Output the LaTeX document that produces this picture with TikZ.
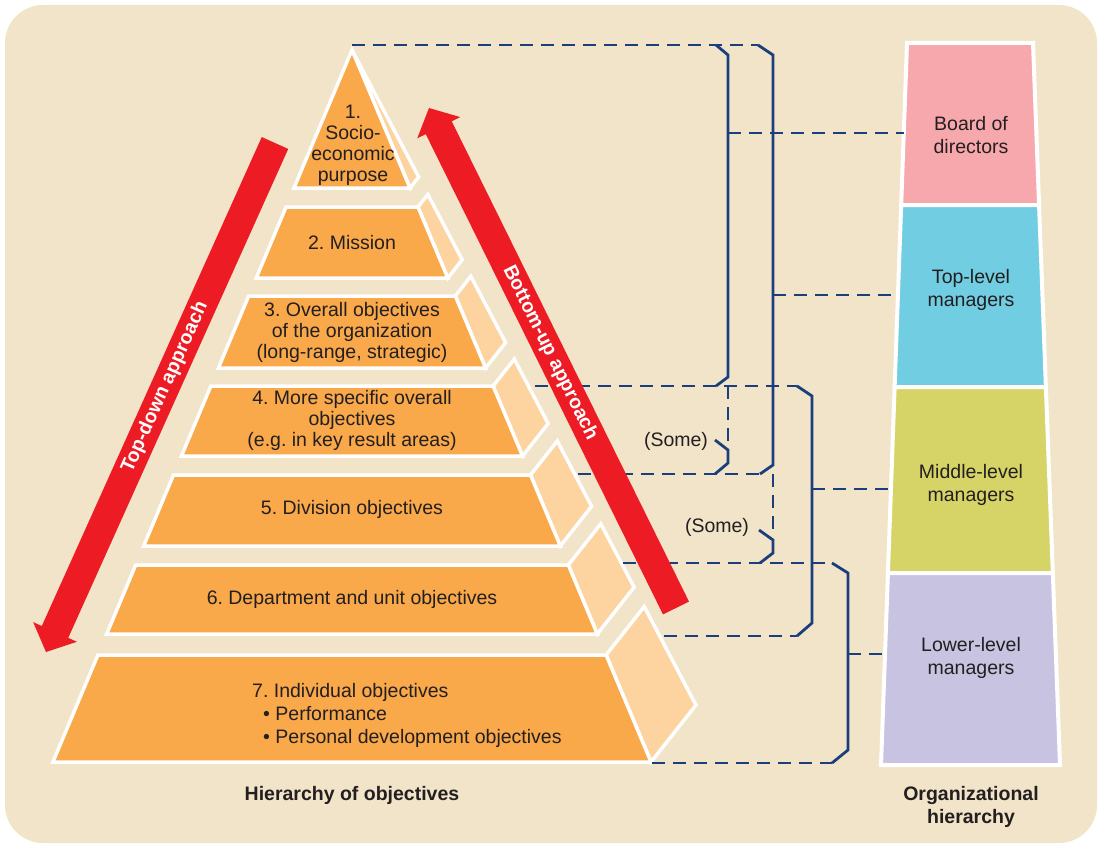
\documentclass[tikz,border=0pt]{standalone}
\usepackage{fontspec}
\setmainfont{Liberation Sans}
\usetikzlibrary{calc}
\definecolor{cream}{HTML}{F2E4C8}
\definecolor{tierfront}{HTML}{F9A84A}
\definecolor{tierback}{HTML}{FDD3A0}
\definecolor{arrowred}{HTML}{ED1C24}
\definecolor{navy}{HTML}{1B3F7C}
\definecolor{ink}{HTML}{231F20}
\definecolor{boardpink}{HTML}{F7A8AC}
\definecolor{topcyan}{HTML}{70CDE2}
\definecolor{midolive}{HTML}{D6D466}
\definecolor{lowlilac}{HTML}{C7C3E0}
\tikzstyle{tier}=[fill=tierfront,draw=white,line width=3.5pt]
\tikzstyle{tierside}=[fill=tierback,draw=white,line width=3.5pt]
\tikzstyle{orgbox}=[draw=white,line width=4pt]
\tikzstyle{tiertext}=[text=ink,font=\fontsize{19.5}{21}\selectfont,align=center,inner sep=0pt]
\tikzstyle{orgtext}=[tiertext,font=\fontsize{19.5}{23}\selectfont]
\tikzstyle{heading}=[orgtext,font=\bfseries\fontsize{19.5}{23}\selectfont]
\tikzstyle{dashlink}=[navy,line width=2.8pt,dash pattern=on 13pt off 8pt]
\tikzstyle{bracket}=[navy,line width=2.8pt]
\tikzstyle{approach}=[fill=arrowred]
\tikzstyle{approachtext}=[text=white,font=\bfseries\fontsize{19.5}{21}\selectfont,sloped,inner sep=0pt]
\frenchspacing

\begin{document}
\begin{tikzpicture}[x=1pt,y=-1pt]
  \useasboundingbox (0,0) rectangle (1099,845);
  \fill[cream,rounded corners=38pt] (5,5) rectangle (1097,843); % backdrop

  % pyramid, top triangle first
  \draw[tierside] (352,50) -- (418.7,177) -- (410,188) -- cycle;
  \draw[tier] (352,50) -- (410,188) -- (294,188) -- cycle;
  \foreach \yt/\yb in {207/278,296/368,386/456,475/546,565/634,655/762}{
    \pgfmathsetmacro\xtr{352+0.42*(\yt-50)}
    \pgfmathsetmacro\xtl{352-0.42*(\yt-50)}
    \pgfmathsetmacro\xbr{352+0.42*(\yb-50)}
    \pgfmathsetmacro\xbl{352-0.42*(\yb-50)}
    \pgfmathsetmacro\bxt{352+0.483*(\yt-50)}
    \pgfmathsetmacro\byt{50+0.92*(\yt-50)}
    \pgfmathsetmacro\bxb{352+0.483*(\yb-50)}
    \pgfmathsetmacro\byb{50+0.92*(\yb-50)}
    \draw[tierside] (\xtr,\yt) -- (\bxt,\byt) -- (\bxb,\byb) -- (\xbr,\yb) -- cycle;
    \draw[tier] (\xtl,\yt) -- (\xtr,\yt) -- (\xbr,\yb) -- (\xbl,\yb) -- cycle;
  }

  \node[tiertext] (obj1) at (353,145) {1.\\Socio-\\economic\\purpose};
  \node[tiertext] (obj2) at (352,243) {2. Mission};
  \node[tiertext] (obj3) at (352,332) {3. Overall objectives\\of the organization\\(long-range, strategic)};
  \node[tiertext] (obj4) at (352,420) {4. More specific overall\\objectives\\(e.g. in key result areas)};
  \node[tiertext] (obj5) at (352,509) {5. Division objectives};
  \node[tiertext] (obj6) at (352,599) {6. Department and unit objectives};
  \node[tiertext,font=\fontsize{19.5}{23}\selectfont,align=left,anchor=west] (obj7) at (252,715)
    {7. Individual objectives\\\hspace*{11pt}• Performance\\\hspace*{11pt}• Personal development objectives};
  \node[heading] (hierobj) at (352,795) {Hierarchy of objectives};

  % organizational hierarchy
  \foreach \ya/\yb/\col in {43/205/boardpink,205/387/topcyan,387/573/midolive,573/765/lowlilac}{
    \pgfmathsetmacro\xla{907-0.036*(\ya-43)}
    \pgfmathsetmacro\xra{1033+0.0374*(\ya-43)}
    \pgfmathsetmacro\xlb{907-0.036*(\yb-43)}
    \pgfmathsetmacro\xrb{1033+0.0374*(\yb-43)}
    \draw[orgbox,fill=\col] (\xla,\ya) -- (\xra,\ya) -- (\xrb,\yb) -- (\xlb,\yb) -- cycle;
  }
  \node[orgtext] (board) at (971,135) {Board of\\directors};
  \node[orgtext] (toplev) at (971,290) {Top-level\\managers};
  \node[orgtext] (midlev) at (971,485) {Middle-level\\managers};
  \node[orgtext] (lowlev) at (971,658) {Lower-level\\managers};
  \node[heading] (orghier) at (971,807) {Organizational\\hierarchy};

  % levels of the pyramid and box edges
  \coordinate (apex) at (352,45);
  \coordinate (lev4) at (535,386);
  \coordinate (lev5) at (578,474);
  \coordinate (lev6) at (623,563);
  \coordinate (lev6b) at (664,636);
  \coordinate (lev7b) at (652,763);
  \coordinate (boardin) at (903.8,133);
  \coordinate (topin) at (897.9,295);
  \coordinate (midin) at (890.9,489);
  \coordinate (lowin) at (885,654);

  \draw[dashlink] (apex) -- (758,45);
  \draw[dashlink] (lev4) -- (797,386);
  \draw[dashlink] (lev5) -- (760,474);
  \draw[dashlink] (lev6) -- (832,563);
  \draw[dashlink] (lev6b) -- (797,636);
  \draw[dashlink] (lev7b) -- (832,763);

  \draw[bracket] (716,45) -- (728,55) -- (728,377) -- (716,386); % board
  \draw[dashlink] (728,133) -- (boardin);
  \draw[dashlink] (728,386) -- (728,447);
  \draw[bracket] (715,440) -- (728,450) -- (728,463) -- (715,474);
  \draw[bracket] (758,45) -- (773,55) -- (773,465) -- (760,474); % top-level
  \draw[dashlink] (773,295) -- (topin);
  \draw[dashlink] (773,474) -- (773,532);
  \draw[bracket] (759,530) -- (773,540) -- (773,553) -- (760,563);
  \draw[bracket] (797,386) -- (812,396) -- (812,623) -- (797,636); % middle
  \draw[dashlink] (812,489) -- (midin);
  \draw[bracket] (832,563) -- (848,573) -- (848,750) -- (832,763); % lower
  \draw[dashlink] (848,654) -- (lowin);

  \node[orgtext] (some1) at (676,441) {(Some)};
  \node[orgtext] (some2) at (717,527) {(Some)};

  % the two approaches
  \foreach \nm/\tx/\ty/\px/\py/\at/\txt in {td/275/143/46/652/0.52/Top-down approach,bu/676/608/429/108/0.49/Bottom-up approach}{
    \coordinate (\nm tail) at (\tx,\ty);
    \coordinate (\nm tip) at (\px,\py);
    \coordinate (\nm base) at ($(\nm tip)!22pt!(\nm tail)$);
    \fill[approach] ($(\nm tail)!14.5pt!90:(\nm tip)$) -- ($(\nm base)!14.5pt!-90:(\nm tail)$)
      -- ($(\nm base)!24pt!-90:(\nm tail)$) -- (\nm tip) -- ($(\nm base)!24pt!90:(\nm tail)$)
      -- ($(\nm base)!14.5pt!90:(\nm tail)$) -- ($(\nm tail)!14.5pt!-90:(\nm tip)$) -- cycle;
    \path (\nm tip) -- (\nm tail) node[approachtext,pos=\at] (\nm label) {\txt};
  }
\end{tikzpicture}
\end{document}
